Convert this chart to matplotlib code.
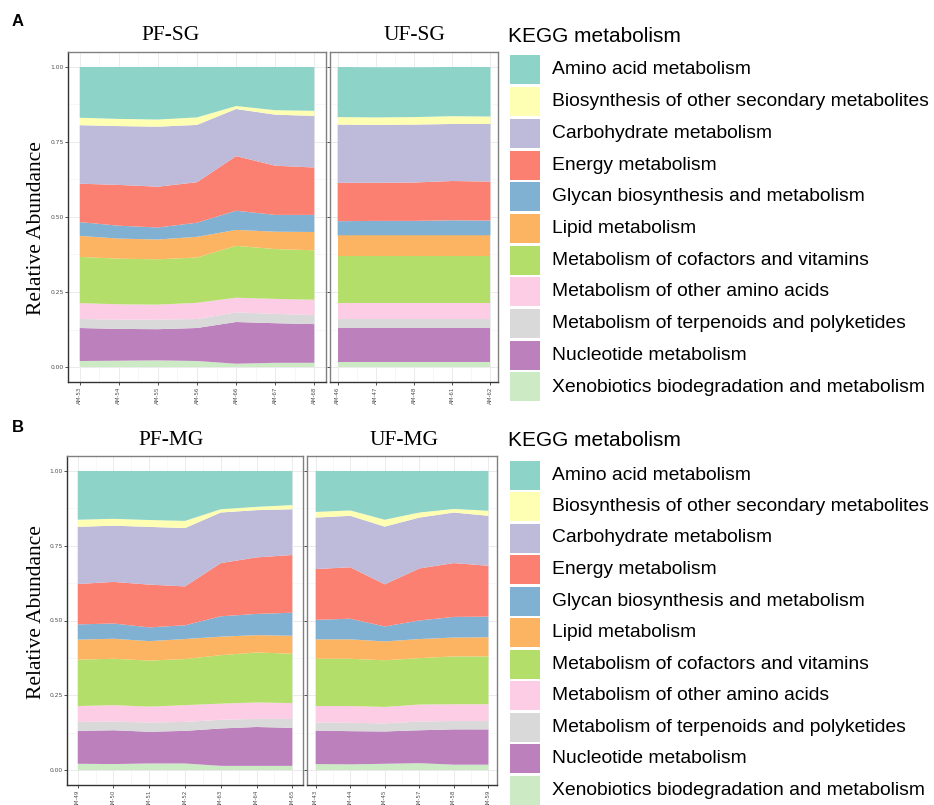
import matplotlib.pyplot as plt
from matplotlib.patches import Rectangle
import numpy as np

W, H = 934, 805

categories = [
    "Amino acid metabolism",
    "Biosynthesis of other secondary metabolites",
    "Carbohydrate metabolism",
    "Energy metabolism",
    "Glycan biosynthesis and metabolism",
    "Lipid metabolism",
    "Metabolism of cofactors and vitamins",
    "Metabolism of other amino acids",
    "Metabolism of terpenoids and polyketides",
    "Nucleotide metabolism",
    "Xenobiotics biodegradation and metabolism",
]
colors = ["#8DD3C7", "#FFFFB3", "#BEBADA", "#FB8072", "#80B1D3", "#FDB462",
          "#B3DE69", "#FCCDE5", "#D9D9D9", "#BC80BD", "#CCEBC5"]

# rows follow the order of `categories`
pf_sg_samples = ["AM-53", "AM-54", "AM-55", "AM-56", "AM-66", "AM-67", "AM-68"]
pf_sg = [
    [0.169, 0.173, 0.175, 0.168, 0.130, 0.144, 0.146],
    [0.025, 0.024, 0.024, 0.025, 0.010, 0.015, 0.017],
    [0.195, 0.196, 0.200, 0.191, 0.157, 0.170, 0.172],
    [0.128, 0.136, 0.136, 0.135, 0.182, 0.164, 0.158],
    [0.046, 0.043, 0.040, 0.047, 0.064, 0.056, 0.057],
    [0.070, 0.067, 0.066, 0.069, 0.053, 0.058, 0.061],
    [0.154, 0.152, 0.151, 0.151, 0.173, 0.166, 0.165],
    [0.053, 0.051, 0.050, 0.054, 0.049, 0.050, 0.051],
    [0.030, 0.031, 0.032, 0.030, 0.032, 0.031, 0.030],
    [0.110, 0.106, 0.104, 0.110, 0.139, 0.132, 0.129],
    [0.020, 0.021, 0.022, 0.020, 0.011, 0.014, 0.014],
]

uf_sg_samples = ["AM-46", "AM-47", "AM-48", "AM-61", "AM-62"]
uf_sg = [
    [0.167, 0.167, 0.166, 0.164, 0.165],
    [0.025, 0.025, 0.025, 0.026, 0.025],
    [0.194, 0.193, 0.193, 0.190, 0.192],
    [0.128, 0.127, 0.128, 0.131, 0.130],
    [0.047, 0.048, 0.048, 0.050, 0.049],
    [0.070, 0.070, 0.070, 0.070, 0.070],
    [0.154, 0.154, 0.154, 0.154, 0.154],
    [0.054, 0.054, 0.054, 0.054, 0.054],
    [0.030, 0.030, 0.030, 0.030, 0.030],
    [0.114, 0.114, 0.114, 0.114, 0.114],
    [0.017, 0.017, 0.017, 0.017, 0.017],
]

pf_mg_samples = ["AM-49", "AM-50", "AM-51", "AM-52", "AM-63", "AM-64", "AM-65"]
pf_mg = [
    [0.163, 0.160, 0.164, 0.167, 0.128, 0.120, 0.114],
    [0.024, 0.023, 0.023, 0.024, 0.011, 0.011, 0.014],
    [0.191, 0.188, 0.193, 0.195, 0.169, 0.158, 0.153],
    [0.135, 0.139, 0.143, 0.130, 0.178, 0.189, 0.193],
    [0.051, 0.051, 0.046, 0.046, 0.068, 0.071, 0.077],
    [0.067, 0.067, 0.065, 0.067, 0.062, 0.058, 0.060],
    [0.155, 0.155, 0.154, 0.154, 0.162, 0.167, 0.165],
    [0.053, 0.055, 0.053, 0.056, 0.054, 0.055, 0.053],
    [0.030, 0.029, 0.031, 0.030, 0.029, 0.027, 0.030],
    [0.110, 0.113, 0.106, 0.109, 0.125, 0.130, 0.127],
    [0.021, 0.020, 0.022, 0.022, 0.014, 0.014, 0.014],
]

uf_mg_samples = ["AM-43", "AM-44", "AM-45", "AM-57", "AM-58", "AM-59"]
uf_mg = [
    [0.137, 0.132, 0.163, 0.139, 0.127, 0.133],
    [0.019, 0.018, 0.023, 0.017, 0.012, 0.017],
    [0.172, 0.172, 0.193, 0.170, 0.169, 0.167],
    [0.170, 0.172, 0.141, 0.174, 0.180, 0.170],
    [0.065, 0.069, 0.050, 0.062, 0.069, 0.069],
    [0.065, 0.065, 0.063, 0.064, 0.063, 0.064],
    [0.158, 0.158, 0.156, 0.155, 0.160, 0.160],
    [0.055, 0.056, 0.055, 0.057, 0.056, 0.056],
    [0.027, 0.028, 0.027, 0.029, 0.028, 0.028],
    [0.112, 0.111, 0.108, 0.110, 0.118, 0.118],
    [0.020, 0.019, 0.021, 0.023, 0.018, 0.018],
]


def px_axes(fig, left, top, right, bottom):
    return fig.add_axes([left / W, 1 - bottom / H, (right - left) / W, (bottom - top) / H])


def draw_panel(ax, samples, rows, show_y):
    x = np.arange(len(samples))
    n = len(samples) - 1
    ax.stackplot(x, rows[::-1], colors=colors[::-1], lw=0, zorder=2)
    ax.set_xlim(-0.05 * n, n * 1.05)
    ax.set_ylim(-0.05, 1.05)
    ax.set_xticks(x)
    ax.set_xticklabels(samples, rotation=90, fontsize=4.0, color="#4d4d4d")
    ax.set_xticks(x[:-1] + 0.5, minor=True)
    ax.set_yticks([0, 0.25, 0.5, 0.75, 1.0])
    ax.set_yticks([0.125, 0.375, 0.625, 0.875], minor=True)
    if show_y:
        ax.set_yticklabels(["0.00", "0.25", "0.50", "0.75", "1.00"], fontsize=4.3, color="#4d4d4d")
    else:
        ax.set_yticklabels([])
        ax.tick_params(axis="y", which="major", length=0)
    ax.tick_params(which="major", length=2, width=0.6, color="#333333", pad=1.2)
    ax.tick_params(which="minor", length=0)
    ax.grid(True, which="major", color="#EBEBEB", lw=0.7, zorder=0)
    ax.grid(True, which="minor", color="#F2F2F2", lw=0.4, zorder=0)
    ax.set_axisbelow(True)
    for sp in ax.spines.values():
        sp.set_color("#808080")
        sp.set_linewidth(1.0)
    if show_y:
        ax.spines["left"].set_color("#333333")
    ax.spines["bottom"].set_color("#333333")


def draw_legend(fig, title_y, first_y, step):
    fig.text(508 / W, 1 - title_y / H, "KEGG metabolism", family="Liberation Sans",
             fontsize=15, va="center", ha="left")
    for i, (cat, col) in enumerate(zip(categories, colors)):
        cy = first_y + i * step
        fig.patches.append(Rectangle((510 / W, 1 - (cy + 14.5) / H), 30 / W, 29 / H,
                                     transform=fig.transFigure, facecolor=col, edgecolor="none"))
        fig.text(552 / W, 1 - cy / H, cat, family="Liberation Sans", fontsize=13.9,
                 va="center", ha="left")


def panel_title(fig, cx, cy, text):
    fig.text(cx / W, 1 - cy / H, text, family="Liberation Serif", fontsize=15.5,
             va="center", ha="center")


fig = plt.figure(figsize=(W / 100, H / 100), dpi=100)

ax1 = px_axes(fig, 68, 52, 326, 382)
draw_panel(ax1, pf_sg_samples, pf_sg, True)
ax2 = px_axes(fig, 330, 52, 498, 382)
draw_panel(ax2, uf_sg_samples, uf_sg, False)
ax3 = px_axes(fig, 67, 456, 303, 785)
draw_panel(ax3, pf_mg_samples, pf_mg, True)
ax4 = px_axes(fig, 307, 456, 497, 785)
draw_panel(ax4, uf_mg_samples, uf_mg, False)

panel_title(fig, 171, 36, "PF-SG")
panel_title(fig, 414, 36, "UF-SG")
panel_title(fig, 171, 440, "PF-MG")
panel_title(fig, 404, 440, "UF-MG")

fig.text(37 / W, 1 - 228 / H, "Relative Abundance", family="Liberation Serif",
         fontsize=15.5, rotation=90, va="center", ha="center")
fig.text(37 / W, 1 - 612 / H, "Relative Abundance", family="Liberation Serif",
         fontsize=15.5, rotation=90, va="center", ha="center")
fig.text(12 / W, 1 - 22 / H, "A", family="Liberation Sans", fontsize=12,
         fontweight="bold", va="center", ha="left")
fig.text(12 / W, 1 - 428 / H, "B", family="Liberation Sans", fontsize=12,
         fontweight="bold", va="center", ha="left")

draw_legend(fig, 37, 70, 31.7)
draw_legend(fig, 440, 475, 31.5)

fig.savefig("out.png", dpi=100)
